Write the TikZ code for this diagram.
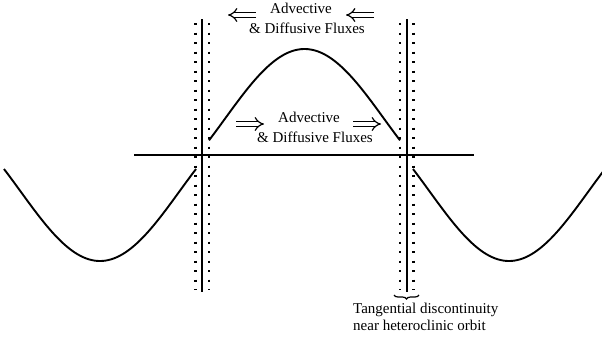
\documentclass[tikz,border=0pt]{standalone}
\usepackage{fontspec}
\setmainfont{Liberation Serif}
\usetikzlibrary{arrows.meta,decorations.pathreplacing}
\begin{document}
\begin{tikzpicture}[x=1bp,y=-1bp,
  lbl/.style={anchor=base west,inner sep=0pt,font=\fontsize{15bp}{17bp}\selectfont},
  solidline/.style={line width=2bp},
  dotline/.style={line width=2.2bp,dash pattern=on 2.2bp off 7.3bp},
  curve/.style={line width=1.9bp},
  axisline/.style={line width=1.5bp},
  flux/.style={line width=1.2bp,double distance=3.6bp,-{Implies[scale=1.35]}},
  bracestyle/.style={line width=1.2bp,decorate,decoration={brace,amplitude=4bp,mirror}}]
\useasboundingbox (0,0) rectangle (602,343);
% horizontal line
\draw[axisline] (134,155) -- (474,155);
% vertical lines
\draw[solidline] (202,19) -- (202,292);
\draw[dotline] (195.5,23) -- (195.5,290);
\draw[dotline] (209,23) -- (209,290);
\draw[solidline] (407,19) -- (407,292);
\draw[dotline] (400,23) -- (400,290);
\draw[dotline] (413.5,23) -- (413.5,290);
% curves
\draw[curve] plot[domain=4:196,samples=80] (\x,{261-69.5*(1-cos(1.134*(\x-100)))});
\draw[curve] plot[domain=209:400,samples=80] (\x,{49+69.5*(1-cos(1.134*(\x-304.5)))});
\draw[curve] plot[domain=413:605,samples=80] (\x,{261-69.5*(1-cos(1.134*(\x-509)))});
% texts
\node[lbl] (t1) at (270,13) {Advective};
\node[lbl] (t2) at (249,33) {\& Diffusive Fluxes};
\node[lbl] (m1) at (278,122) {Advective};
\node[lbl] (m2) at (257,142) {\& Diffusive Fluxes};
\node[lbl] (b1) at (353,313) {Tangential discontinuity};
\node[lbl] (b2) at (353,330) {near heteroclinic orbit};
% flux arrows
\coordinate (a1s) at (256,15); \coordinate (a1e) at (228,15);
\coordinate (a2s) at (374,15); \coordinate (a2e) at (346,15);
\coordinate (a3s) at (236,124); \coordinate (a3e) at (264,124);
\coordinate (a4s) at (353,124); \coordinate (a4e) at (381,124);
\draw[flux] (a1s) -- (a1e);
\draw[flux] (a2s) -- (a2e);
\draw[flux] (a3s) -- (a3e);
\draw[flux] (a4s) -- (a4e);
% brace
\coordinate (bl) at (394,295); \coordinate (br) at (419,295);
\draw[bracestyle] (bl) -- (br);
\end{tikzpicture}
\end{document}
